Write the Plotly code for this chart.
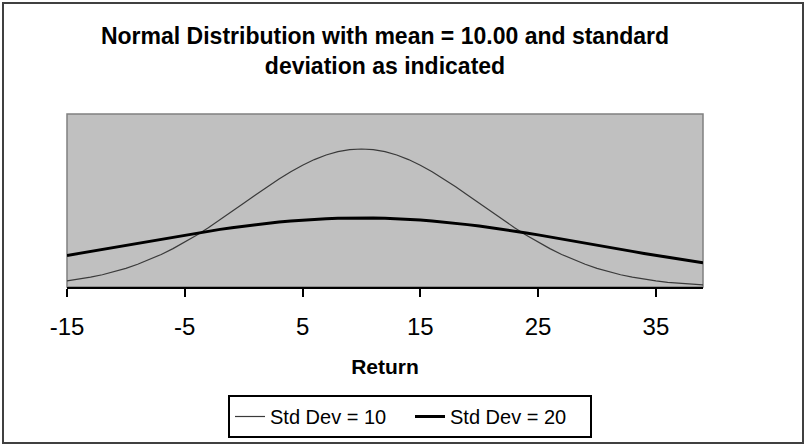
import plotly.graph_objects as go

# Data
returns = list(range(-15, 40))
std10 = [0.00175, 0.00224, 0.00283, 0.00355, 0.00440, 0.00540, 0.00656, 0.00790, 0.00941, 0.01109,
         0.01295, 0.01497, 0.01714, 0.01942, 0.02179, 0.02420, 0.02661, 0.02897, 0.03123, 0.03332,
         0.03521, 0.03683, 0.03814, 0.03910, 0.03970, 0.03989, 0.03970, 0.03910, 0.03814, 0.03683,
         0.03521, 0.03332, 0.03123, 0.02897, 0.02661, 0.02420, 0.02179, 0.01942, 0.01714, 0.01497,
         0.01295, 0.01109, 0.00941, 0.00790, 0.00656, 0.00540, 0.00440, 0.00355, 0.00283, 0.00224,
         0.00175, 0.00136, 0.00104, 0.00079, 0.00060]
std20 = [0.00913, 0.00971, 0.01030, 0.01089, 0.01149, 0.01210, 0.01270, 0.01330, 0.01390, 0.01449,
         0.01506, 0.01561, 0.01615, 0.01666, 0.01715, 0.01760, 0.01803, 0.01841, 0.01876, 0.01907,
         0.01933, 0.01955, 0.01972, 0.01985, 0.01992, 0.01995, 0.01992, 0.01985, 0.01972, 0.01955,
         0.01933, 0.01907, 0.01876, 0.01841, 0.01803, 0.01760, 0.01715, 0.01666, 0.01615, 0.01561,
         0.01506, 0.01449, 0.01390, 0.01330, 0.01270, 0.01210, 0.01149, 0.01089, 0.01030, 0.00971,
         0.00913, 0.00857, 0.00802, 0.00749, 0.00697]
tick_vals = [-15, -5, 5, 15, 25, 35]
tick_text = ["-15", "-5", "5", "15", "25", "35"]

W, H = 805, 445
L, R, T, B = 67, 703, 114, 287

def px(x):
    return (x - L) / (R - L)

def py(y):
    return (B - y) / (B - T)

fig = go.Figure()
fig.add_trace(go.Scatter(x=returns, y=std10, mode="lines", name="Std Dev = 10",
                         line=dict(color="#3a3a3a", width=1.2)))
fig.add_trace(go.Scatter(x=returns, y=std20, mode="lines", name="Std Dev = 20",
                         line=dict(color="#000000", width=3)))

font_family = "Arial, Liberation Sans, sans-serif"

fig.update_layout(
    width=W, height=H,
    margin=dict(l=L, r=W - R, t=T, b=H - B, pad=0, autoexpand=False),
    paper_bgcolor="white",
    plot_bgcolor="#c0c0c0",
    showlegend=True,
    title=dict(text="<b>Normal Distribution with mean = 10.00 and standard<br>deviation as indicated</b>",
               x=0.5, xanchor="center", xref="paper", y=1 - 44 / H, yanchor="middle",
               font=dict(family=font_family, size=23, color="black")),
    xaxis=dict(range=[-15, 39], tickvals=tick_vals, ticktext=tick_text,
               ticks="outside", ticklen=8, tickwidth=1.5, tickcolor="black",
               ticklabelstandoff=9, automargin=False,
               showline=True, linecolor="black", linewidth=1.5, showgrid=False, zeroline=False,
               tickfont=dict(family=font_family, size=24, color="black"),
               title=dict(text="<b>Return</b>", font=dict(family=font_family, size=21, color="black"),
                          standoff=21)),
    yaxis=dict(range=[0, 0.05], showticklabels=False, showgrid=False, zeroline=False,
               ticks="", showline=False),
    legend=dict(orientation="h", x=px(410), xanchor="center", y=py(416.5), yanchor="middle",
                bordercolor="black", borderwidth=2, bgcolor="white",
                font=dict(family=font_family, size=20, color="black"),
                entrywidth=135, entrywidthmode="pixels",
                itemwidth=30, tracegroupgap=0),
)

# plot area border (gray) and chart area border
fig.add_shape(type="rect", xref="paper", yref="paper", x0=0, x1=1, y0=0, y1=1,
              line=dict(color="#808080", width=1.5), layer="below")
fig.add_shape(type="rect", xref="paper", yref="paper", x0=px(3), x1=px(803), y0=py(443), y1=py(3),
              line=dict(color="#404040", width=2))

fig.write_html("out.html", config={"displayModeBar": False},
               post_script="document.body.style.margin='0px';")
